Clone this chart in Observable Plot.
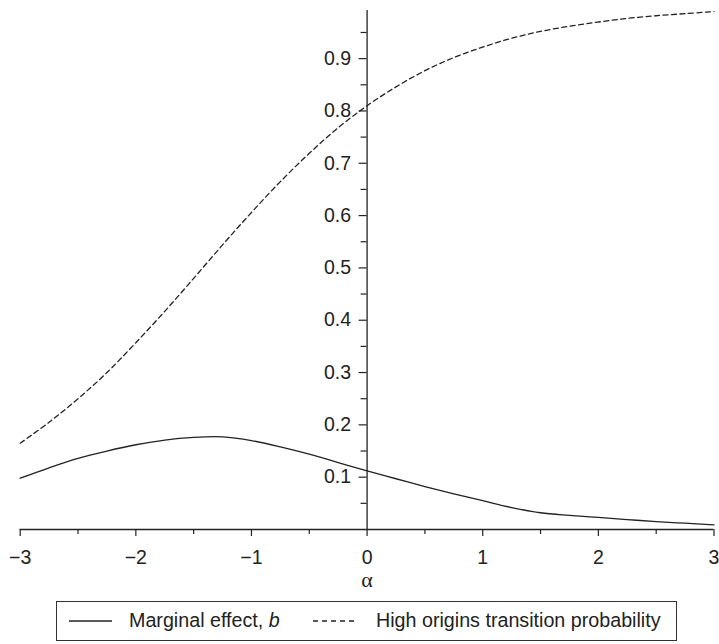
<!DOCTYPE html>
<html>
<head>
<meta charset="utf-8">
<script src="https://cdn.jsdelivr.net/npm/d3@7"></script>
<script src="https://cdn.jsdelivr.net/npm/@observablehq/plot@0.6"></script>
<style>
  html, body { margin: 0; padding: 0; background: #fff; }
  #wrap { position: relative; width: 719px; height: 644px; font-family: "Liberation Sans", Arial, Helvetica, sans-serif; color: #222; }
  #legend { position: absolute; left: 56px; top: 601px; width: 621px; height: 40px; box-sizing: border-box; border: 1.5px solid #333; }
  #legend .lbl { position: absolute; top: 0; height: 37px; line-height: 37px; font-size: 19.7px; white-space: nowrap; }
  #legend svg { position: absolute; top: 0; left: 0; }
</style>
</head>
<body>
<div id="wrap"></div>
<script>
// ---- data ----
const alpha = [-3, -2.75, -2.5, -2.25, -2, -1.75, -1.5, -1.25, -1, -0.75, -0.5, -0.25, 0,
  0.25, 0.5, 0.75, 1, 1.25, 1.5, 1.75, 2, 2.25, 2.5, 2.75, 3];
const marginalEffect = [0.098, 0.118, 0.136, 0.150, 0.162, 0.171, 0.176, 0.177, 0.170, 0.158,
  0.144, 0.128, 0.112, 0.097, 0.082, 0.068, 0.055, 0.042, 0.032, 0.027, 0.023, 0.019, 0.015, 0.012, 0.009];
const transitionProb = [0.165, 0.205, 0.250, 0.300, 0.357, 0.417, 0.480, 0.544, 0.606, 0.665,
  0.719, 0.768, 0.810, 0.846, 0.877, 0.902, 0.922, 0.939, 0.952, 0.962, 0.970, 0.977, 0.982, 0.986, 0.990];
const xTicks = [-3, -2, -1, 0, 1, 2, 3];
const xMinorTicks = [-2.5, -1.5, -0.5, 0.5, 1.5, 2.5];
const yTicks = [0.1, 0.2, 0.3, 0.4, 0.5, 0.6, 0.7, 0.8, 0.9];
const yMinorTicks = [0.05, 0.15, 0.25, 0.35, 0.45, 0.55, 0.65, 0.75, 0.85, 0.95];
const seriesNames = ["Marginal effect, ", "High origins transition probability"];
const xLabel = "α";

const rows = alpha.map((a, i) => ({a, me: marginalEffect[i], tp: transitionProb[i]}));

const W = 719, H = 600, mL = 19.7, mR = 5.5, mT = 10, mB = 71;
const xDomain = [-3, 3], yDomain = [0, 0.992];
const x0px = mL + (0 - xDomain[0]) / (xDomain[1] - xDomain[0]) * (W - mL - mR);
const axisDx = x0px - mL;
const ink = "#222";
const fs = 19.5;
const fmtX = d => d < 0 ? "\u2212" + Math.abs(d) : String(d);

const chart = Plot.plot({
  width: W, height: H,
  marginLeft: mL, marginRight: mR, marginTop: mT, marginBottom: mB,
  style: {fontFamily: "'Liberation Sans', Arial, Helvetica, sans-serif", fontSize: fs + "px", color: ink, background: "#fff", overflow: "visible"},
  x: {domain: xDomain},
  y: {domain: yDomain},
  marks: [
    Plot.ruleY([0], {stroke: ink, strokeWidth: 1.3}),
    Plot.ruleX([0], {stroke: ink, strokeWidth: 1.3}),
    Plot.axisX(xTicks, {anchor: "bottom", tickSize: 7, tickPadding: 14, tickFormat: fmtX, stroke: ink, strokeWidth: 1.2, fill: ink, fontSize: fs, label: null}),
    Plot.axisX(xMinorTicks, {anchor: "bottom", tickSize: 5, text: null, stroke: ink, strokeWidth: 1.2, label: null}),
    Plot.axisY(yTicks, {anchor: "left", dx: axisDx, tickSize: 8, tickPadding: 8, tickFormat: d3.format(".1f"), stroke: ink, strokeWidth: 1.2, fill: ink, fontSize: fs, label: null}),
    Plot.axisY(yMinorTicks, {anchor: "left", dx: axisDx, tickSize: 6, text: null, stroke: ink, strokeWidth: 1.2, label: null}),
    Plot.text([xLabel], {frameAnchor: "bottom", dy: 57, fontFamily: "'Liberation Serif', 'DejaVu Serif', serif", fontSize: 22, fill: ink}),
    Plot.line(rows, {x: "a", y: "me", stroke: ink, strokeWidth: 1.3, curve: "catmull-rom"}),
    Plot.line(rows, {x: "a", y: "tp", stroke: ink, strokeWidth: 1.3, strokeDasharray: "5,3.5", curve: "catmull-rom"})
  ]
});

const wrap = document.getElementById("wrap");
wrap.appendChild(chart);

const legend = document.createElement("div");
legend.id = "legend";
legend.innerHTML = `
  <svg width="618" height="37">
    <line x1="12" x2="55" y1="19" y2="19" stroke="${ink}" stroke-width="1.3"></line>
    <line x1="256" x2="300" y1="19" y2="19" stroke="${ink}" stroke-width="1.3" stroke-dasharray="5,4"></line>
  </svg>
  <span class="lbl" style="left:72px">${seriesNames[0]}<i>b</i></span>
  <span class="lbl" style="left:319px">${seriesNames[1]}</span>`;
wrap.appendChild(legend);
</script>
</body>
</html>
